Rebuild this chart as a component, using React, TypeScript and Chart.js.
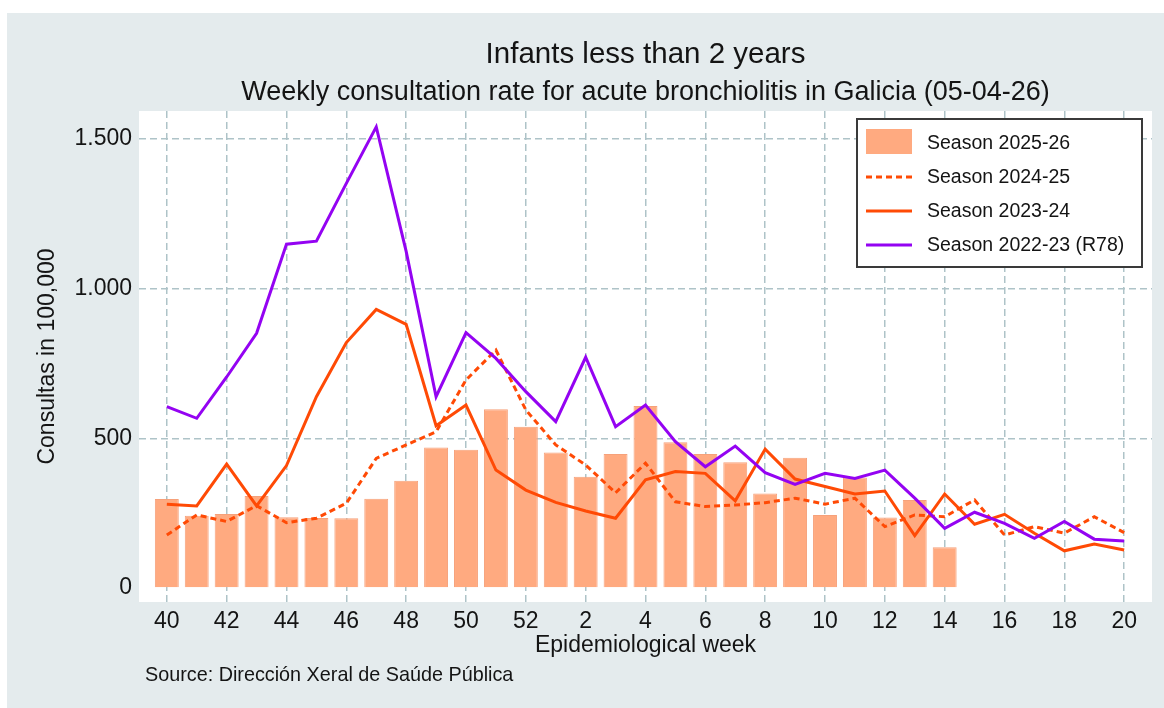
import React, { useEffect, useRef } from "react";
import { Chart, registerables } from "chart.js";

Chart.register(...registerables);

// ---- Data ----
const weeks = [
  "40", "41", "42", "43", "44", "45", "46", "47", "48", "49", "50", "51", "52",
  "1", "2", "3", "4", "5", "6", "7", "8", "9", "10", "11", "12", "13", "14",
  "15", "16", "17", "18", "19", "20",
];

const season2526 = [
  297, 241, 247, 307, 236, 234, 233, 298, 358, 469, 462, 597, 539,
  453, 372, 448, 608, 487, 448, 420, 316, 435, 244, 369, 235, 294, 136,
  null, null, null, null, null, null,
];

const season2425 = [
  177, 244, 222, 275, 218, 233, 283, 433, 478, 522, 695, 795, 595,
  478, 411, 318, 417, 288, 272, 277, 285, 300, 280, 300, 205, 244, 238,
  294, 177, 205, 183, 238, 185,
];

const season2324 = [
  280, 274, 414, 274, 409, 639, 820, 931, 881, 542, 611, 394, 327,
  286, 257, 233, 361, 389, 383, 291, 464, 364, 339, 314, 324, 175, 314,
  213, 246, 183, 124, 147, 127,
];

const season2223 = [
  606, 567, 705, 851, 1149, 1159, 1352, 1541, 1125, 639, 853, 767, 656,
  556, 771, 539, 611, 489, 405, 474, 385, 346, 383, 366, 394, 300, 199,
  253, 216, 166, 222, 163, 157,
];

const seriesLabels = [
  "Season 2025-26",
  "Season 2024-25",
  "Season 2023-24",
  "Season 2022-23 (R78)",
];

const yTicks = [0, 500, 1000, 1500];
const yTickLabels = ["0", "500", "1.000", "1.500"];

const titleText = "Infants less than 2 years";
const subtitleText =
  "Weekly consultation rate for acute bronchiolitis in Galicia (05-04-26)";
const xTitle = "Epidemiological week";
const yTitle = "Consultas in 100,000";
const sourceText = "Source: Dirección Xeral de Saúde Pública";

// ---- Styles ----
const FONT = "'Liberation Sans', Arial, Helvetica, sans-serif";
const TEXT = "#141414";
const PANEL = "#e4ebed";
const GRID = "#aec3c8";
const BAR = "#ffaa80";
const BAR_BORDER = "#f6a17a";
const ORANGE = "#ff4a05";
const PURPLE = "#9403f2";

const W = 1157;
const H = 695;

const toPoints = (arr: (number | null)[]) =>
  arr.map((v, i) => ({ x: i, y: v }));

const decorPlugin = {
  id: "decor",
  beforeDraw(chart: any) {
    const { ctx, chartArea } = chart;
    ctx.save();
    ctx.fillStyle = "#ffffff";
    ctx.fillRect(
      chartArea.left,
      chartArea.top,
      chartArea.right - chartArea.left,
      chartArea.bottom - chartArea.top
    );
    ctx.restore();
  },
  afterDraw(chart: any) {
    const { ctx, chartArea } = chart;
    const cx = (chartArea.left + chartArea.right) / 2;
    ctx.save();
    ctx.fillStyle = TEXT;
    ctx.textAlign = "center";
    ctx.textBaseline = "middle";
    ctx.font = `29.5px ${FONT}`;
    ctx.fillText(titleText, cx, 42);
    ctx.font = `27px ${FONT}`;
    ctx.fillText(subtitleText, cx, 80);

    ctx.textAlign = "left";
    ctx.font = `19.8px ${FONT}`;
    ctx.fillText(sourceText, 138, 663);

    // legend box
    const lx = 850, ly = 106, lw = 285, lh = 148;
    ctx.fillStyle = "#ffffff";
    ctx.fillRect(lx, ly, lw, lh);
    ctx.strokeStyle = "#3a3a3a";
    ctx.lineWidth = 2;
    ctx.strokeRect(lx, ly, lw, lh);

    const ds = chart.data.datasets;
    const rows = [130, 164, 198, 232];
    ctx.font = `19.5px ${FONT}`;
    ctx.textBaseline = "middle";
    ds.forEach((d: any, i: number) => {
      const y = rows[i];
      if (d.type === "bar") {
        ctx.fillStyle = d.backgroundColor;
        ctx.fillRect(859, 116, 46, 25);
      } else {
        ctx.save();
        ctx.strokeStyle = d.borderColor;
        ctx.lineWidth = d.borderWidth;
        ctx.setLineDash(d.borderDash || []);
        ctx.beginPath();
        ctx.moveTo(859, y);
        ctx.lineTo(905, y);
        ctx.stroke();
        ctx.restore();
      }
      ctx.fillStyle = TEXT;
      ctx.fillText(d.label, 920, y + 1);
    });
    ctx.restore();
  },
};

export default function App() {
  const canvasRef = useRef<HTMLCanvasElement | null>(null);

  useEffect(() => {
    if (!canvasRef.current) return;
    Chart.defaults.font.family = FONT;
    Chart.defaults.color = TEXT;

    const chart = new Chart(canvasRef.current, {
      type: "bar",
      data: {
        datasets: [
          {
            type: "bar",
            label: seriesLabels[0],
            data: toPoints(season2526),
            backgroundColor: BAR,
            borderColor: BAR_BORDER,
            borderWidth: 1,
            barPercentage: 1.0,
            categoryPercentage: 0.8,
            order: 4,
          } as any,
          {
            type: "line",
            label: seriesLabels[1],
            data: toPoints(season2425),
            borderColor: ORANGE,
            backgroundColor: ORANGE,
            borderWidth: 3,
            borderDash: [6, 4],
            pointRadius: 0,
            tension: 0,
            order: 3,
          },
          {
            type: "line",
            label: seriesLabels[2],
            data: toPoints(season2324),
            borderColor: ORANGE,
            backgroundColor: ORANGE,
            borderWidth: 3,
            pointRadius: 0,
            tension: 0,
            order: 2,
          },
          {
            type: "line",
            label: seriesLabels[3],
            data: toPoints(season2223),
            borderColor: PURPLE,
            backgroundColor: PURPLE,
            borderWidth: 3,
            pointRadius: 0,
            tension: 0,
            order: 1,
          },
        ],
      },
      options: {
        animation: false,
        responsive: false,
        devicePixelRatio: 1,
        layout: { padding: { left: 0, top: 98, right: 12, bottom: 0 } },
        plugins: {
          legend: { display: false },
          tooltip: { enabled: false },
          title: { display: false },
        },
        scales: {
          x: {
            type: "linear",
            min: -0.93,
            max: 32.93,
            offset: false,
            afterBuildTicks: (s: any) => {
              s.ticks = weeks
                .map((_, i) => ({ value: i }))
                .filter((t) => t.value % 2 === 0);
            },
            afterFit: (s: any) => {
              s.height = 106;
            },
            ticks: {
              autoSkip: false,
              maxRotation: 0,
              padding: 6,
              color: TEXT,
              font: { size: 23 },
              callback: (v: any) => weeks[v as number],
            },
            grid: {
              offset: false,
              color: GRID,
              lineWidth: 1.5,
              drawTicks: false,
            },
            border: { display: false, dash: [7, 4] },
            title: {
              display: true,
              text: xTitle,
              color: TEXT,
              font: { size: 23 },
              padding: { top: 0, bottom: 49 },
            },
          } as any,
          y: {
            type: "linear",
            min: -47,
            max: 1594,
            afterBuildTicks: (s: any) => {
              s.ticks = yTicks.map((v) => ({ value: v }));
            },
            afterFit: (s: any) => {
              s.width = 132;
            },
            ticks: {
              padding: 7,
              color: TEXT,
              font: { size: 23 },
              callback: (v: any) => yTickLabels[yTicks.indexOf(v as number)],
            },
            grid: {
              color: (c: any) =>
                c.tick && c.tick.value === 0 ? "rgba(0,0,0,0)" : GRID,
              lineWidth: 1.5,
              drawTicks: false,
            },
            border: { display: false, dash: [7, 4] },
            title: {
              display: true,
              text: yTitle,
              color: TEXT,
              font: { size: 23 },
              padding: { top: 27, bottom: 0 },
            },
          } as any,
        },
      },
      plugins: [decorPlugin],
    });

    return () => chart.destroy();
  }, []);

  return (
    <div
      style={{
        position: "fixed",
        left: 7,
        top: 13,
        width: W,
        height: H,
        background: PANEL,
      }}
    >
      <canvas
        ref={canvasRef}
        width={W}
        height={H}
        style={{ display: "block", width: W, height: H }}
      />
    </div>
  );
}
